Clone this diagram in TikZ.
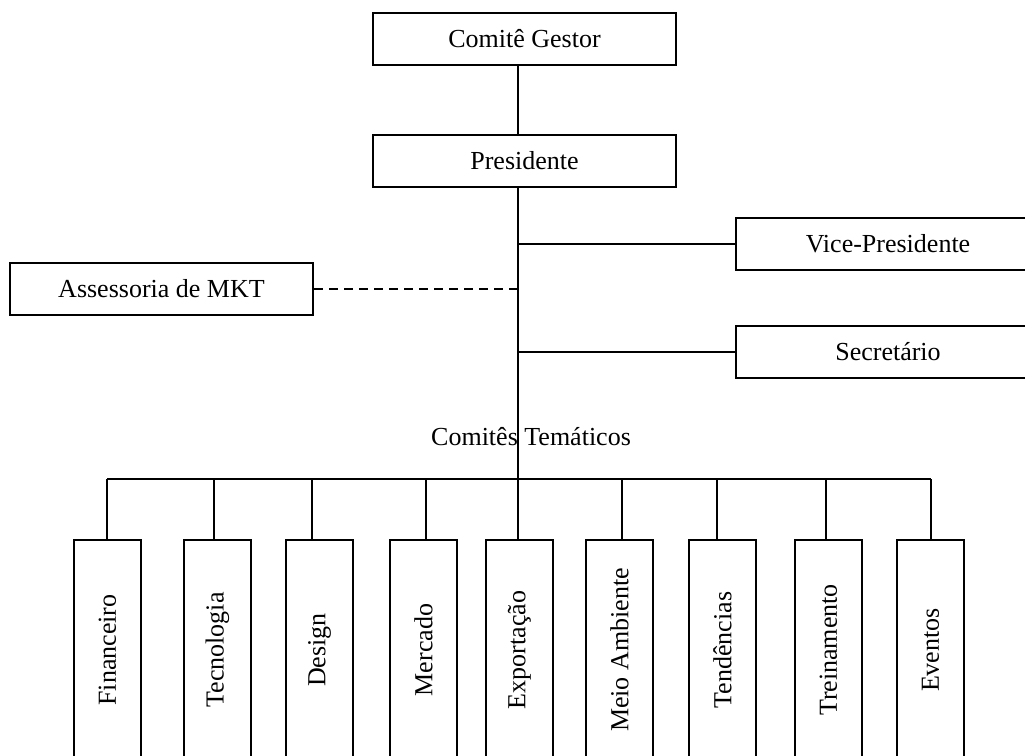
\documentclass[tikz,border=0pt]{standalone}
\usepackage{fontspec}
\setmainfont{Liberation Serif}
\begin{document}
\begin{tikzpicture}[x=1pt,y=-1pt,
  every node/.style={font=\fontsize{26}{30}\selectfont, inner sep=0pt},
  wide/.style={draw, line width=2pt, minimum width=303pt, minimum height=52pt},
  tall/.style={draw, line width=2pt, minimum width=67pt, minimum height=220pt},
  link/.style={line width=2pt},
  dashlink/.style={line width=2pt, dash pattern=on 9pt off 6pt}]
\clip (0,0) rectangle (1025,755);
\fill[white] (0,0) rectangle (1025,755);

% upper hierarchy
\node[wide] (cg)   at (524.5,39)  {Comitê Gestor};
\node[wide] (pres) at (524.5,161) {Presidente};
\node[wide, minimum width=304pt] (vice) at (888,244) {Vice-Presidente};
\node[wide, minimum width=304pt] (sec)  at (888,352) {Secretário};
\node[wide] (mkt)  at (161.5,289) {Assessoria de MKT};
\node[anchor=base] (ct) at (531,445) {Comitês Temáticos};

% thematic committees
\node[tall] (fin) at (107.5,650) {\rotatebox{90}{Financeiro}};
\node[tall] (tec) at (217.5,650) {\rotatebox{90}{Tecnologia}};
\node[tall] (des) at (319.5,650) {\rotatebox{90}{Design}};
\node[tall] (mer) at (423.5,650) {\rotatebox{90}{Mercado}};
\node[tall] (exp) at (519.5,650) {\rotatebox{90}{Exportação}};
\node[tall] (mei) at (619.5,650) {\rotatebox{90}{Meio Ambiente}};
\node[tall] (ten) at (722.5,650) {\rotatebox{90}{Tendências}};
\node[tall] (tre) at (828.5,650) {\rotatebox{90}{Treinamento}};
\node[tall] (eve) at (930.5,650) {\rotatebox{90}{Eventos}};

% trunk and bus junction points
\coordinate (tk) at (518,479);
\coordinate (dfin) at (107,479);
\coordinate (dtec) at (214,479);
\coordinate (ddes) at (312,479);
\coordinate (dmer) at (426,479);
\coordinate (dmei) at (622,479);
\coordinate (dten) at (717,479);
\coordinate (dtre) at (826,479);
\coordinate (deve) at (931,479);

% connectors
\draw[link] (cg.south -| tk) -- (pres.north -| tk);
\draw[link] (pres.south -| tk) -- (exp.north -| tk);
\draw[link] (vice.west -| tk) -- (vice.west);
\draw[link] (sec.west -| tk) -- (sec.west);
\draw[dashlink] (mkt.east) -- (mkt.east -| tk);
\draw[link] (dfin) -- (deve);
\foreach \n in {fin,tec,des,mer,mei,ten,tre,eve}
  \draw[link] (d\n) -- (d\n |- \n.north);
\end{tikzpicture}
\end{document}
